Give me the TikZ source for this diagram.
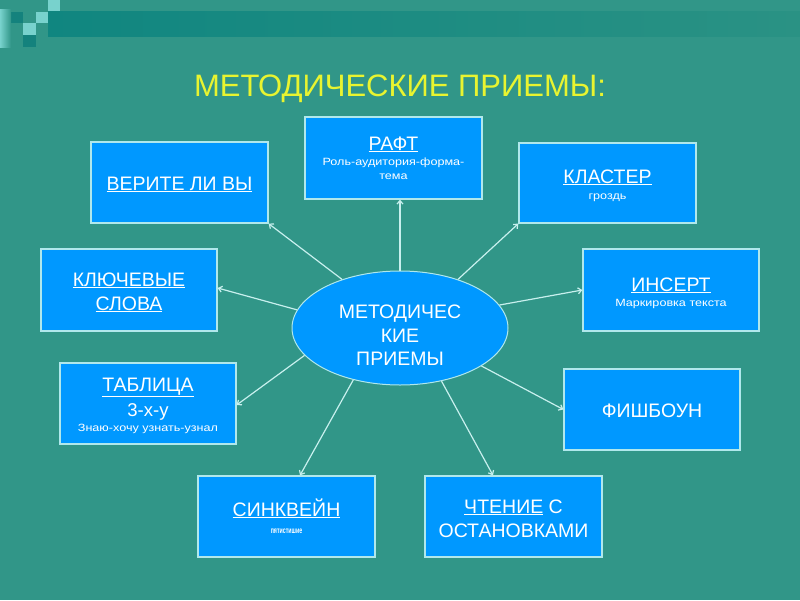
\documentclass[tikz,border=0pt]{standalone}
\usepackage{fontspec}
\setmainfont{Liberation Sans}
\newfontfamily\stretchfont[FakeStretch=1.2]{Liberation Sans}
\newfontfamily\narrowfont[FakeStretch=0.62]{Liberation Sans Bold}
\usetikzlibrary{arrows.meta,calc,shapes.geometric}
\definecolor{bg}{RGB}{49,150,136}
\definecolor{bandL}{RGB}{16,134,128}
\definecolor{bandR}{RGB}{42,146,132}
\definecolor{boxblue}{RGB}{0,152,255}
\definecolor{edge}{RGB}{176,232,236}
\definecolor{arr}{RGB}{200,240,238}
\definecolor{ttl}{RGB}{232,244,48}
\definecolor{sqlight}{RGB}{120,210,205}
\definecolor{sqdark}{RGB}{20,130,125}
\tikzset{
  box/.style={draw=edge,line width=1.3pt,fill=boxblue,rectangle,inner sep=0pt},
  big/.style={text=white,font=\fontsize{19.5}{22}\selectfont,anchor=base,inner sep=0pt},
  small/.style={text=white,font=\stretchfont\fontsize{10.5}{12}\selectfont,anchor=base,inner sep=0pt},
  conn/.style={draw=arr,line width=1.2pt,-{Straight Barb[length=3.5pt,width=6pt]}},
}
\begin{document}
\begin{tikzpicture}[x=1pt,y=-1pt]
\useasboundingbox (0,0) rectangle (800,600);
\fill[bg] (0,0) rectangle (800,600);
% top band
\shade[left color=bandL,right color=bandR] (48,11) rectangle (800,36);
\fill[sqlight] (48,0) rectangle (60,11);
\fill[sqlight] (36,12) rectangle (48,23);
\fill[sqdark] (11,12) rectangle (23,23);
\fill[sqlight] (23,23) rectangle (36,35);
\fill[sqdark] (23,35) rectangle (36,47);
\shade[left color=sqlight,right color=bg] (0,9) rectangle (11,47);
% title
\node[text=ttl,font=\fontsize{31}{34}\selectfont,anchor=base,inner sep=0pt] (title) at (400,96) {МЕТОДИЧЕСКИЕ ПРИЕМЫ:};
% centre ellipse
\node[ellipse,draw=edge,line width=1pt,fill=boxblue,minimum width=216pt,minimum height=114pt,inner sep=0pt] (c) at (400,328) {};
\node[big] (c1) at (400,318) {МЕТОДИЧЕС};
\node[big] (c2) at (400,342) {КИЕ};
\node[big] (c3) at (400,365) {ПРИЕМЫ};
% boxes
\node[box,minimum width=177pt,minimum height=82pt] (raft) at (393.5,158) {};
\node[big] (raftt) at (393.5,150) {\underline{РАФТ}};
\node[small] (raft2) at (393.5,165) {Роль-аудитория-форма-};
\node[small] (raft3) at (393.5,179) {тема};

\node[box,minimum width=177pt,minimum height=81pt] (verite) at (179.5,182.5) {};
\node[big] (veritet) at (179.5,190) {\underline{ВЕРИТЕ ЛИ ВЫ}};

\node[box,minimum width=177pt,minimum height=80pt] (klaster) at (607.5,183) {};
\node[big] (klastert) at (607.5,183) {\underline{КЛАСТЕР}};
\node[small] (klaster2) at (607.5,199) {гроздь};

\node[box,minimum width=176pt,minimum height=82pt] (kluch) at (129,290) {};
\node[big] (kluch1) at (129,286) {\underline{КЛЮЧЕВЫЕ}};
\node[big] (kluch2) at (129,310) {\underline{СЛОВА}};

\node[box,minimum width=176pt,minimum height=82pt] (insert) at (671,290) {};
\node[big] (insertt) at (671,291) {\underline{ИНСЕРТ}};
\node[small] (insert2) at (671,306) {Маркировка текста};

\node[box,minimum width=176pt,minimum height=81pt] (tabl) at (148,403.5) {};
\node[big] (tablt) at (148,391) {\underline{ТАБЛИЦА}};
\node[text=white,font=\fontsize{18.5}{20}\selectfont,anchor=base,inner sep=0pt] (tabl2) at (148,416.5) {3-х-у};
\node[small] (tabl3) at (148,431) {Знаю-хочу узнать-узнал};

\node[box,minimum width=176pt,minimum height=81pt] (fish) at (652,409.5) {};
\node[big] (fisht) at (652,417) {ФИШБОУН};

\node[box,minimum width=177pt,minimum height=81pt] (sink) at (286.5,516.5) {};
\node[big] (sinkt) at (286.5,516) {\underline{СИНКВЕЙН}};
\node[text=white,font=\narrowfont\fontsize{8.5}{9}\selectfont,anchor=base,inner sep=0pt] (sink2) at (286.5,533) {пятистишие};

\node[box,minimum width=177pt,minimum height=81pt] (chten) at (513.5,516.5) {};
\node[big] (chten1) at (513.5,513) {\underline{ЧТЕНИЕ} С};
\node[big] (chten2) at (513.5,537) {ОСТАНОВКАМИ};
% connectors
\draw[conn] (c.90) -- (c.90 |- raft.south);
\draw[conn] (c.140) -- (verite.south east);
\draw[conn] (c.40) -- (klaster.south west);
\draw[conn] (c.170) -- ($(kluch.east)+(0,-2)$);
\draw[conn] (c.13) -- (insert.west);
\draw[conn] (c.196) -- ($(tabl.east)+(0,1.5)$);
\draw[conn] (c.-25) -- (fish.west);
\draw[conn] (c.228) -- ($(sink.north)+(13.5,0)$);
\draw[conn] (c.-52) -- ($(chten.north)+(-20.5,0)$);
\end{tikzpicture}
\end{document}
